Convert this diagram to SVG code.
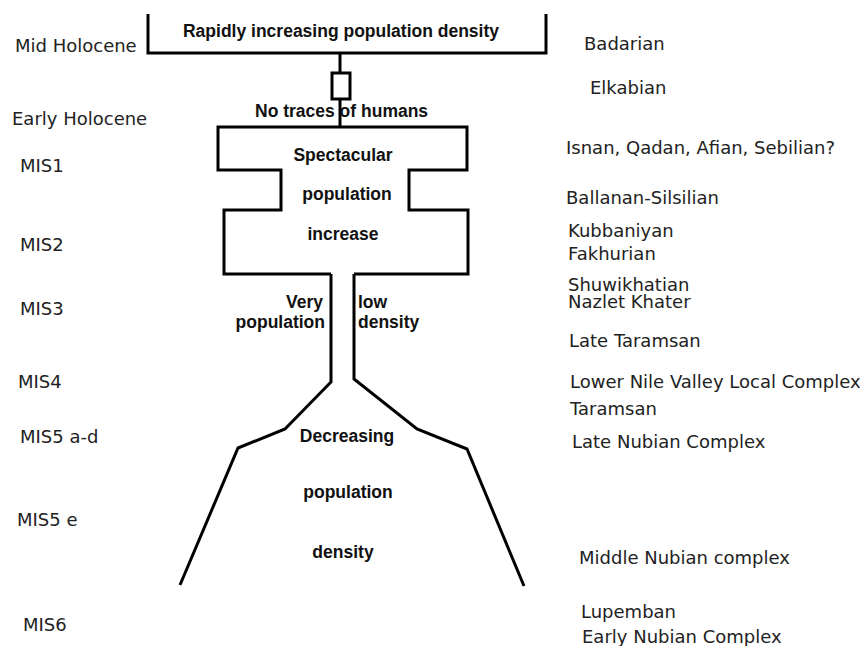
<svg xmlns="http://www.w3.org/2000/svg" width="861" height="646" viewBox="0 0 861 646">
<style>
.ln{fill:none;stroke:#000;stroke-width:3;stroke-linejoin:miter}
.b{font-family:"Liberation Sans",Arial,sans-serif;font-weight:bold;font-size:17.5px;fill:#111}
.l{font-family:"DejaVu Sans","Liberation Sans",sans-serif;font-size:18px;fill:#222}
.m{text-anchor:middle}
</style>
<rect width="861" height="646" fill="#fff"/>
<g id="connectors">
<path class="ln" d="M340,53 V73 M340,99 V127"/>
</g>
<g id="top">
<path class="ln" d="M148,14 V53 H546 V14"/>
<text class="b m" x="341" y="37">Rapidly increasing population density</text>
</g>
<g id="gap">
<rect class="ln" x="332" y="73" width="18" height="26"/>
<text class="b" x="255" y="117">No traces of humans</text>
</g>
<g id="increase">
<path class="ln" d="M331,274 H224 V210 H281 V170 H218 V127 H467 V170 H409 V210 H468 V274 H354"/>
<text class="b m" x="343" y="161">Spectacular</text>
<text class="b m" x="347" y="200">population</text>
<text class="b m" x="343" y="240">increase</text>
</g>
<g id="low">
<path class="ln" d="M331,274 V382 L285,429 L238,448 L180,585"/>
<path class="ln" d="M354,274 V379 L417,429 L467,449 L524,586"/>
<text class="b" x="323" y="308" text-anchor="end">Very</text>
<text class="b" x="325" y="328" text-anchor="end">population</text>
<text class="b" x="358" y="308">low</text>
<text class="b" x="358" y="328">density</text>
</g>
<g id="decreasing">
<text class="b m" x="347" y="442">Decreasing</text>
<text class="b m" x="348" y="498">population</text>
<text class="b m" x="343" y="558">density</text>
</g>
<g id="periods">
<text class="l" x="15" y="52">Mid Holocene</text>
<text class="l" x="12" y="125">Early Holocene</text>
<text class="l" x="20" y="172">MIS1</text>
<text class="l" x="20" y="251">MIS2</text>
<text class="l" x="20" y="315">MIS3</text>
<text class="l" x="18" y="388">MIS4</text>
<text class="l" x="20" y="443">MIS5 a-d</text>
<text class="l" x="17" y="526">MIS5 e</text>
<text class="l" x="23" y="631">MIS6</text>
</g>
<g id="industries">
<text class="l" x="584" y="50">Badarian</text>
<text class="l" x="590" y="94">Elkabian</text>
<text class="l" x="566" y="154">Isnan, Qadan, Afian, Sebilian?</text>
<text class="l" x="566" y="204">Ballanan-Silsilian</text>
<text class="l" x="568" y="237">Kubbaniyan</text>
<text class="l" x="568" y="260">Fakhurian</text>
<text class="l" x="568" y="291">Shuwikhatian</text>
<text class="l" x="568" y="308">Nazlet Khater</text>
<text class="l" x="569" y="347">Late Taramsan</text>
<text class="l" x="570" y="388">Lower Nile Valley Local Complex</text>
<text class="l" x="570" y="415">Taramsan</text>
<text class="l" x="572" y="448">Late Nubian Complex</text>
<text class="l" x="579" y="564">Middle Nubian complex</text>
<text class="l" x="581" y="618">Lupemban</text>
<text class="l" x="582" y="643">Early Nubian Complex</text>
</g>
</svg>
